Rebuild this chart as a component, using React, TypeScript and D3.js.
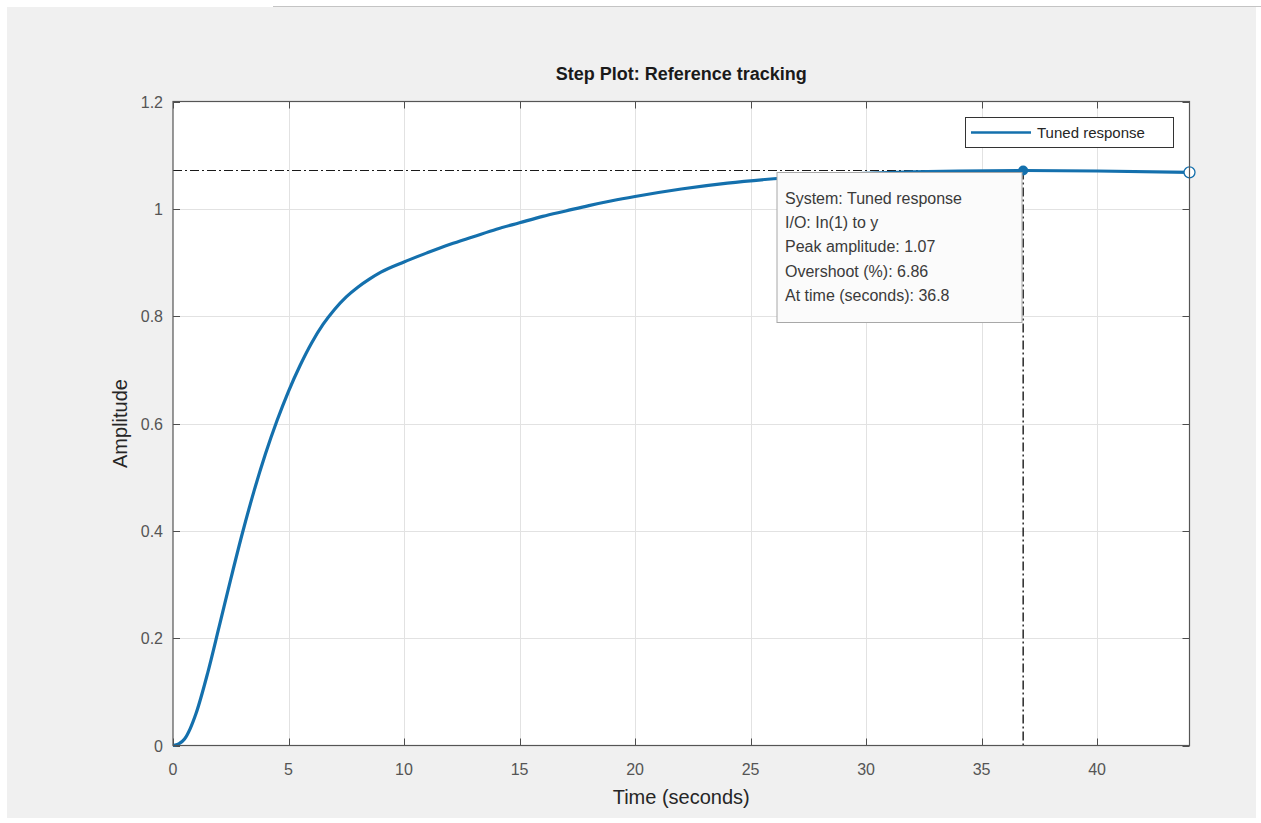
import React from 'react';
import * as d3 from 'd3';

// step response samples
const timeSec = [0, 0.25, 0.5, 0.75, 1.0, 1.5, 2.0, 2.5, 3.0, 3.5, 4.0, 4.5, 5.0, 5.5, 6.0, 6.5, 7.0, 7.5, 8.0, 8.5, 9.0, 10, 11, 12, 13, 14, 15, 16, 17, 18, 19, 20, 22, 24, 26, 28, 30, 32, 34, 36.8, 40, 44];
const amplitude = [0, 0.003, 0.012, 0.032, 0.06, 0.135, 0.222, 0.31, 0.395, 0.473, 0.543, 0.605, 0.66, 0.708, 0.75, 0.785, 0.813, 0.836, 0.854, 0.869, 0.882, 0.901, 0.918, 0.934, 0.948, 0.962, 0.974, 0.986, 0.996, 1.006, 1.015, 1.023, 1.037, 1.048, 1.056, 1.062, 1.066, 1.069, 1.0705, 1.0714, 1.0705, 1.068];

const xTicks = [0, 5, 10, 15, 20, 25, 30, 35, 40];
const yTicks = [0, 0.2, 0.4, 0.6, 0.8, 1, 1.2];
const yTickLabels = ['0', '0.2', '0.4', '0.6', '0.8', '1', '1.2'];

const peakTime = 36.8;
const peakAmp = 1.0714;

const tipLines = [
  'System: Tuned response',
  'I/O: In(1) to y',
  'Peak amplitude: 1.07',
  'Overshoot (%): 6.86',
  'At time (seconds): 36.8',
];

const FONT = '"Liberation Sans", Arial, Helvetica, sans-serif';
const LINE_COLOR = '#1470ad';

export default function App() {
  const W = 1261;
  const H = 823;
  const margin = { left: 173, right: 1189.5, top: 101.5, bottom: 745.5 };

  const x = d3.scaleLinear().domain([0, 44]).range([margin.left, margin.right]);
  const y = d3.scaleLinear().domain([0, 1.2]).range([margin.bottom, margin.top]);

  const pts: [number, number][] = timeSec.map((t, i) => [t, amplitude[i]]);
  const line = d3.line<[number, number]>()
    .x(d => x(d[0]))
    .y(d => y(d[1]))
    .curve(d3.curveMonotoneX);

  const tickLen = 7;
  const px = x(peakTime);
  const py = y(peakAmp);
  const endT = timeSec[timeSec.length - 1];
  const endA = amplitude[amplitude.length - 1];

  const tipX = 777;
  const tipY = 172.5;
  const tipW = 245;
  const tipH = 150;

  return (
    <div style={{ position: 'absolute', left: 0, top: 0 }}>
      <svg width={W} height={H} style={{ display: 'block', background: '#fff' }} fontFamily={FONT}>
        {/* figure background */}
        <rect x={7} y={7} width={1249} height={811} fill="#f0f0f0" />
        <line x1={273} x2={1261} y1={6.5} y2={6.5} stroke="#c4c4c4" strokeWidth={1} />

        {/* axes area */}
        <rect x={margin.left} y={margin.top} width={margin.right - margin.left} height={margin.bottom - margin.top} fill="#fff" />

        {/* grid */}
        {xTicks.filter(t => t > 0).map(t => (
          <line key={'gx' + t} x1={Math.round(x(t)) + 0.5} x2={Math.round(x(t)) + 0.5} y1={margin.top} y2={margin.bottom} stroke="#e2e2e2" />
        ))}
        {yTicks.filter(t => t > 0 && t < 1.2).map(t => (
          <line key={'gy' + t} x1={margin.left} x2={margin.right} y1={Math.round(y(t)) + 0.5} y2={Math.round(y(t)) + 0.5} stroke="#e2e2e2" />
        ))}

        {/* ticks on all four sides */}
        {xTicks.map(t => (
          <g key={'tx' + t} stroke="#4d4d4d">
            <line x1={Math.round(x(t)) + 0.5} x2={Math.round(x(t)) + 0.5} y1={margin.bottom} y2={margin.bottom - tickLen} />
            <line x1={Math.round(x(t)) + 0.5} x2={Math.round(x(t)) + 0.5} y1={margin.top} y2={margin.top + tickLen} />
          </g>
        ))}
        {yTicks.map(t => (
          <g key={'ty' + t} stroke="#4d4d4d">
            <line x1={margin.left} x2={margin.left + tickLen} y1={Math.round(y(t)) + 0.5} y2={Math.round(y(t)) + 0.5} />
            <line x1={margin.right} x2={margin.right - tickLen} y1={Math.round(y(t)) + 0.5} y2={Math.round(y(t)) + 0.5} />
          </g>
        ))}

        {/* tick labels */}
        {xTicks.map(t => (
          <text key={'lx' + t} x={x(t)} y={775} textAnchor="middle" fontSize={16} fill="#555">{t}</text>
        ))}
        {yTicks.map((t, i) => (
          <text key={'ly' + t} x={163} y={y(t) + 6} textAnchor="end" fontSize={16} fill="#555">{yTickLabels[i]}</text>
        ))}

        {/* peak guide lines */}
        <line x1={margin.left} x2={px} y1={py} y2={py} stroke="#1a1a1a" strokeWidth={1.2} strokeDasharray="9,3,2,3" />
        <line x1={px} x2={px} y1={py} y2={margin.bottom} stroke="#1a1a1a" strokeWidth={1.4} strokeDasharray="9,3,2,3" />

        {/* response */}
        <path d={line(pts) || ''} fill="none" stroke={LINE_COLOR} strokeWidth={3.2} strokeLinejoin="round" />
        <circle cx={px} cy={py} r={5} fill={LINE_COLOR} />
        <circle cx={x(endT)} cy={y(endA)} r={5.5} fill="#fff" stroke={LINE_COLOR} strokeWidth={1.3} />

        {/* axes box */}
        <rect x={margin.left} y={margin.top} width={margin.right - margin.left} height={margin.bottom - margin.top} fill="none" stroke="#555" strokeWidth={1.2} />

        {/* data tip */}
        <rect x={tipX} y={tipY} width={tipW} height={tipH} fill="#fbfbfb" stroke="#a8a8a8" />
        {tipLines.map((s, i) => (
          <text key={'tip' + i} x={tipX + 8} y={tipY + 31 + i * 24.4} fontSize={16} fill="#3a3a3a">{s}</text>
        ))}

        {/* legend */}
        <rect x={965.5} y={117.5} width={208} height={30} fill="#fff" stroke="#333" />
        <line x1={971} x2={1031} y1={132.5} y2={132.5} stroke={LINE_COLOR} strokeWidth={2.6} />
        <text x={1037} y={138} fontSize={15} fill="#262626">Tuned response</text>

        {/* title and labels */}
        <text x={(margin.left + margin.right) / 2} y={80} textAnchor="middle" fontSize={18} fontWeight="bold" fill="#1a1a1a">Step Plot: Reference tracking</text>
        <text x={(margin.left + margin.right) / 2} y={804} textAnchor="middle" fontSize={20} fill="#262626">Time (seconds)</text>
        <text transform={`translate(127,${(margin.top + margin.bottom) / 2}) rotate(-90)`} textAnchor="middle" fontSize={20} fill="#262626">Amplitude</text>
      </svg>
    </div>
  );
}
